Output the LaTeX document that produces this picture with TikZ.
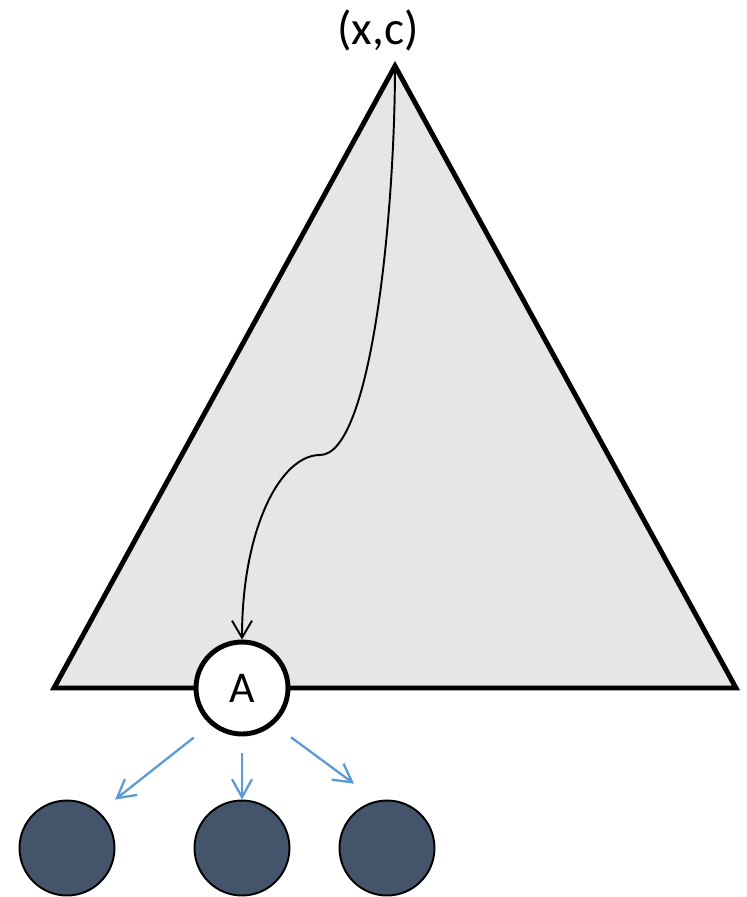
\documentclass[tikz,border=0pt]{standalone}
\usepackage{fontspec}
\setmainfont{Carlito}
\usepackage{tikz}
\usetikzlibrary{arrows.meta, positioning}
\definecolor{trigray}{HTML}{E6E6E6}
\definecolor{leafdark}{HTML}{44546A}
\definecolor{childblue}{HTML}{5B9BD5}
\tikzset{
  rootnode/.style={circle, draw=black, fill=white, line width=2.8pt, minimum size=1.84cm, inner sep=0pt, font=\fontsize{25}{28}\selectfont},
  leafnode/.style={circle, draw=black, fill=leafdark, line width=1.1pt, minimum size=1.9cm, inner sep=0pt},
  patharrow/.style={-{Straight Barb[length=0.34cm, width=0.4cm]}, line width=1.1pt, color=black},
  childarrow/.style={-{Straight Barb[length=0.36cm, width=0.4cm]}, line width=1.3pt, color=childblue}
}
\begin{document}
\begin{tikzpicture}[x=0.02cm, y=-0.02cm]
  \useasboundingbox (0,0) rectangle (747,897);

  % Triangle
  \coordinate (apex) at (395,66);
  \coordinate (baseL) at (54,688);
  \coordinate (baseR) at (736,688);
  \draw[fill=trigray, line width=2.8pt, line join=miter] (apex) -- (baseR) -- (baseL) -- cycle;
  \node[font=\fontsize{27}{30}\selectfont] (label) at (378,30) {(x,c)};

  % Root node and leaves
  \node[rootnode] (A) at (242,688) {A};
  \node[leafnode] (leafL) at (67,848) {};
  \node[leafnode] (leafM) at (242,848) {};
  \node[leafnode] (leafR) at (387,848) {};

  % Search path
  \draw[patharrow] (apex) .. controls (395,210) and (372,455) .. (320,455)
    .. controls (280,455) and (242,530) .. (A.north);

  % Children
  \draw[childarrow, shorten <=0.42cm, shorten >=0.4cm] (A.229) -- (leafL.48);
  \draw[childarrow, shorten <=0.34cm] (A) -- (leafM);
  \draw[childarrow, shorten <=0.43cm, shorten >=0.57cm] (A.311) -- (leafR.102);
\end{tikzpicture}
\end{document}
